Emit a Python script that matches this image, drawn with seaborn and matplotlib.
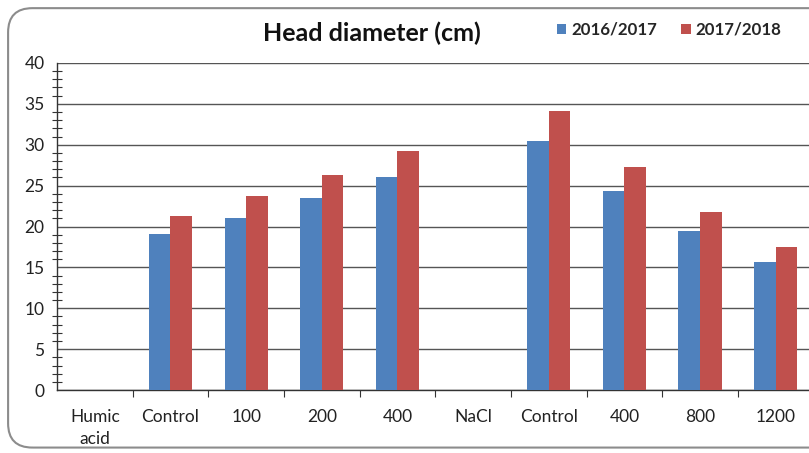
import matplotlib
matplotlib.use("Agg")
import matplotlib.pyplot as plt
from matplotlib.patches import FancyBboxPatch, Patch
from matplotlib.font_manager import FontProperties
from matplotlib.ticker import MultipleLocator, FixedLocator
import numpy as np
import pandas as pd
import seaborn as sns

# Treatments (group headers carry no measurements)
keys = ["HA", "HA_ctrl", "HA_100", "HA_200", "HA_400",
        "NaCl", "NaCl_ctrl", "NaCl_400", "NaCl_800", "NaCl_1200"]
tick_labels = ["Humic\nacid", "Control", "100", "200", "400",
               "NaCl", "Control", "400", "800", "1200"]
season_1 = [np.nan, 19.1, 21.1, 23.5, 26.1, np.nan, 30.5, 24.4, 19.5, 15.6]
season_2 = [np.nan, 21.3, 23.7, 26.3, 29.2, np.nan, 34.1, 27.3, 21.8, 17.5]
seasons = ["2016/2017", "2017/2018"]
colors = ["#4F81BD", "#C0504D"]

df = pd.DataFrame({
    "treatment": keys * 2,
    "season": [seasons[0]] * len(keys) + [seasons[1]] * len(keys),
    "value": season_1 + season_2,
})

sns.set_style("white")
plt.rcParams["font.family"] = ["Lato", "DejaVu Sans"]

fig = plt.figure(figsize=(8.09, 4.53), dpi=100)
ax = fig.add_axes([0.0705, 0.139, 0.935, 0.722])

sns.barplot(data=df, x="treatment", y="value", hue="season", order=keys,
            hue_order=seasons, palette=colors, width=0.57, saturation=1,
            linewidth=0, ax=ax, legend=False, zorder=3)

ax.set_xlim(-0.5, len(keys) - 0.5)
ax.set_ylim(0, 40)
ax.set_xlabel("")
ax.set_ylabel("")

# y axis: labelled every 5, small marks every 1
ax.yaxis.set_major_locator(MultipleLocator(5))
ax.yaxis.set_minor_locator(MultipleLocator(1))
ax.tick_params(axis="y", which="major", direction="inout", length=10, width=1,
               color="#333333", labelsize=12.5, pad=4, labelcolor="#222222")
ax.tick_params(axis="y", which="minor", direction="inout", length=7, width=0.8,
               color="#333333", left=True)
ax.yaxis.grid(True, which="major", color="#555555", linewidth=1, zorder=0)
ax.set_axisbelow(True)

# x axis: marks at category centres and boundaries
ax.xaxis.set_major_locator(FixedLocator(range(len(keys))))
ax.set_xticklabels(tick_labels, linespacing=1.45)
ax.xaxis.set_minor_locator(FixedLocator(np.arange(0.5, len(keys), 1.0)))
ax.tick_params(axis="x", which="major", direction="inout", length=9, width=1,
               color="#333333", labelsize=12.5, pad=9, labelcolor="#222222")
ax.tick_params(axis="x", which="minor", direction="out", length=5, width=0.8,
               color="#333333", bottom=True)

for side in ["top", "right"]:
    ax.spines[side].set_visible(False)
for side in ["left", "bottom"]:
    ax.spines[side].set_color("#333333")
    ax.spines[side].set_linewidth(1)

fig.text(0.460, 0.926, "Head diameter (cm)", ha="center", va="center",
         fontsize=18, fontweight="bold", color="#111111")

handles = [Patch(facecolor=c, edgecolor="none") for c in colors]
legend_font = FontProperties(family=["Lato", "DejaVu Sans"], weight="bold", size=12.2)
fig.legend(handles, seasons, loc="center left", bbox_to_anchor=(0.688, 0.934), ncol=2,
           frameon=False, borderpad=0, borderaxespad=0,
           handlelength=0.55, handleheight=0.55, handletextpad=0.3,
           columnspacing=1.45, prop=legend_font)

frame = FancyBboxPatch((0.010, 0.012), 1.2, 0.970, transform=fig.transFigure,
                       boxstyle="round,pad=0,rounding_size=0.03",
                       facecolor="none", edgecolor="#8c8c8c", linewidth=1.5,
                       mutation_aspect=809 / 453)
fig.patches.append(frame)

fig.savefig("out.png", dpi=100)
